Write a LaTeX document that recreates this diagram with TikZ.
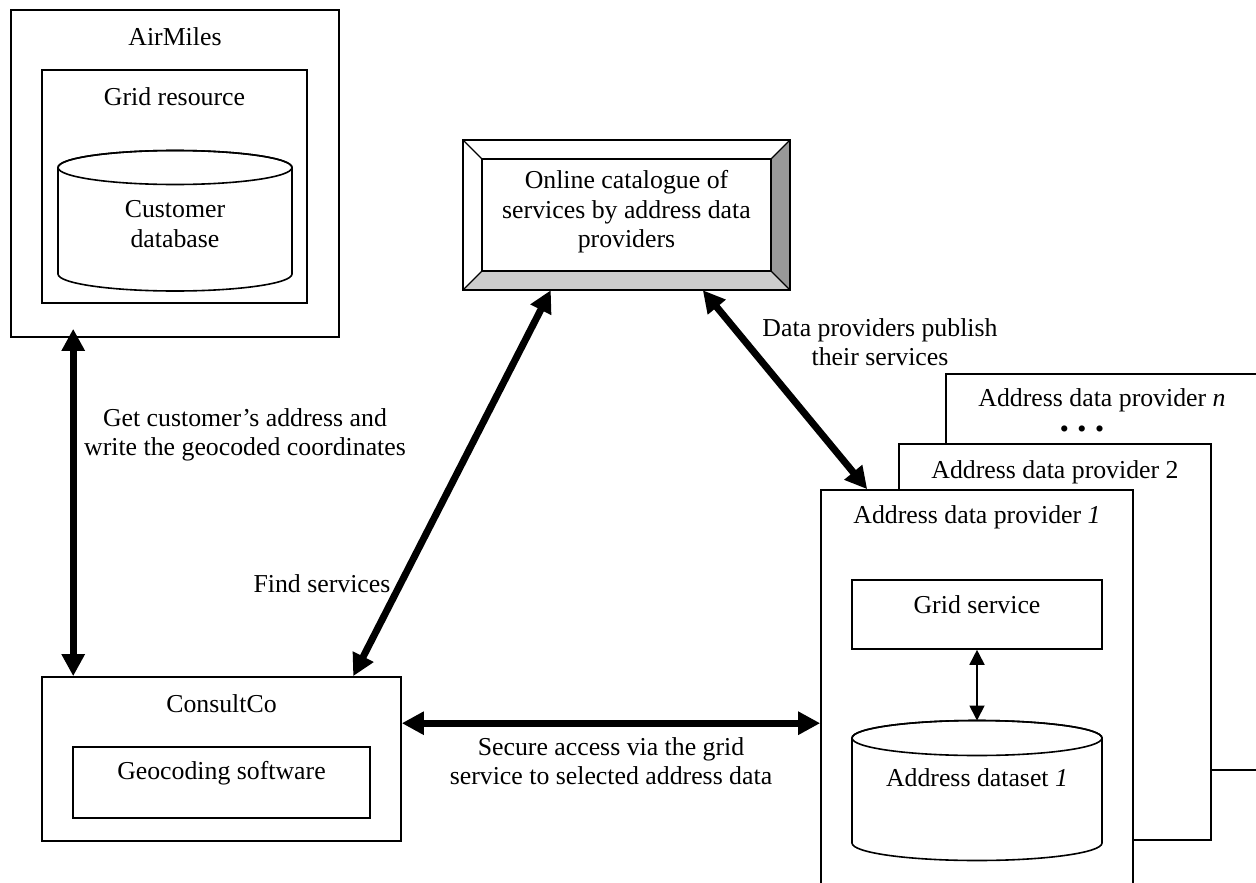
\documentclass[tikz,border=0pt]{standalone}
\usepackage{fontspec}
\setmainfont{Liberation Serif}
\usetikzlibrary{arrows.meta}
\definecolor{bevlight}{HTML}{CCCCCC}
\definecolor{bevdark}{HTML}{999999}
\newcommand\mysize{\fontsize{25.8pt}{29.5pt}\selectfont}
\newcommand\dbcyl[5]{%
  \filldraw[cylline, fill=white] (#1-#4,-#2) -- (#1-#4,-#3)
    arc[start angle=180, end angle=360, x radius=#4pt, y radius=#5pt]
    -- (#1+#4,-#2)
    arc[start angle=0, end angle=180, x radius=#4pt, y radius=#5pt] -- cycle;
  \draw[cylline] (#1,-#2) ellipse[x radius=#4pt, y radius=#5pt];}
\begin{document}
\begin{tikzpicture}[x=1pt, y=1pt,
  box/.style={draw, line width=1.6pt, fill=white, rectangle, inner sep=0pt},
  cylline/.style={line width=1.6pt},
  txt/.style={inner sep=0pt, align=center, font=\mysize},
  bigarrow/.style={line width=7pt, {Triangle[length=22pt,width=22pt]}-{Triangle[length=22pt,width=22pt]}},
  smallarrow/.style={line width=1.8pt, {Triangle[length=15pt,width=15pt]}-{Triangle[length=15pt,width=15pt]}}]
\useasboundingbox (0,0) rectangle (1256,-883);
\clip (0,0) rectangle (1256,-883);

% AirMiles
\node[box, minimum width=328, minimum height=327] (airmiles) at (175,-173.5) {};
\node[txt] (airmilest) at (175,-37) {AirMiles};
\node[box, minimum width=265, minimum height=233] (gridres) at (174.5,-186.5) {};
\node[txt] (gridrest) at (174.5,-97) {Grid resource};
\dbcyl{175}{167.5}{274}{117}{17}
\node[txt] (custdb) at (175,-224) {Customer\\database};

% Catalogue (bevelled box)
\node[rectangle, inner sep=0pt, minimum width=327, minimum height=150] (cat) at (626.5,-215) {};
\fill[white] (463,-140) rectangle (790,-290);
\fill[bevlight] (463,-290) -- (790,-290) -- (771,-271) -- (482,-271) -- cycle;
\fill[bevdark] (790,-140) -- (790,-290) -- (771,-271) -- (771,-159) -- cycle;
\draw[line width=1.6pt] (463,-140) rectangle (790,-290);
\draw[line width=1.6pt] (482,-159) rectangle (771,-271);
\draw[line width=1.2pt] (463,-140) -- (482,-159) (790,-140) -- (771,-159)
  (463,-290) -- (482,-271) (790,-290) -- (771,-271);
\node[txt] (catt) at (626.5,-212) {Online catalogue of\\services by address data\\providers};

% ConsultCo
\node[box, minimum width=359, minimum height=164] (consult) at (221.5,-759) {};
\node[txt] (consultt) at (221.5,-704) {ConsultCo};
\node[box, minimum width=297, minimum height=71] (geocode) at (221.5,-782.5) {};
\node[txt] (geocodet) at (221.5,-773) {Geocoding software};

% Providers
\node[box, minimum width=354, minimum height=396] (pn) at (1123,-572) {};
\node[txt] (pnt) at (1102,-400) {Address data provider \textit{n}};
\node[txt] (dots) at (1082,-432) {\textbullet\,\,\textbullet\,\,\textbullet};
\node[box, minimum width=312, minimum height=396] (p2) at (1055,-642) {};
\node[txt] (p2t) at (1055,-472) {Address data provider 2};
\node[box, minimum width=312, minimum height=460] (p1) at (977,-720) {};
\node[txt] (p1t) at (977,-517) {Address data provider \textit{1}};
\node[box, minimum width=250, minimum height=69] (gridsvc) at (977,-614.5) {};
\node[txt] (gridsvct) at (977,-605) {Grid service};
\dbcyl{977}{738}{843}{125}{17.5}
\coordinate (dstop) at (977,-720.5);
\node[txt] (dsett) at (977,-778) {Address dataset \textit{1}};

% Connectors
\draw[bigarrow] ([shift={(63,9)}]airmiles.south west) -- ([shift={(32,0)}]consult.north west);
\draw[bigarrow] ([shift={(312,0)}]consult.north west) -- ([shift={(88,0)}]cat.south west);
\draw[bigarrow] ([shift={(240,0)}]cat.south west) -- ([shift={(47,0)}]p1.north west);
\draw[bigarrow] ([shift={(0,-47)}]consult.north east) -- ([shift={(0,-234)}]p1.north west);
\draw[smallarrow] (gridsvc.south) -- (dstop);

% Labels
\node[txt] (l1) at (245,-435) {Get customer’s address and\\write the geocoded coordinates};
\node[txt] (l2) at (322,-584) {Find services};
\node[txt] (l3) at (880,-342) {Data providers publish\\their services};
\node[txt] (l4) at (611,-761) {Secure access via the grid\\service to selected address data};
\end{tikzpicture}
\end{document}
